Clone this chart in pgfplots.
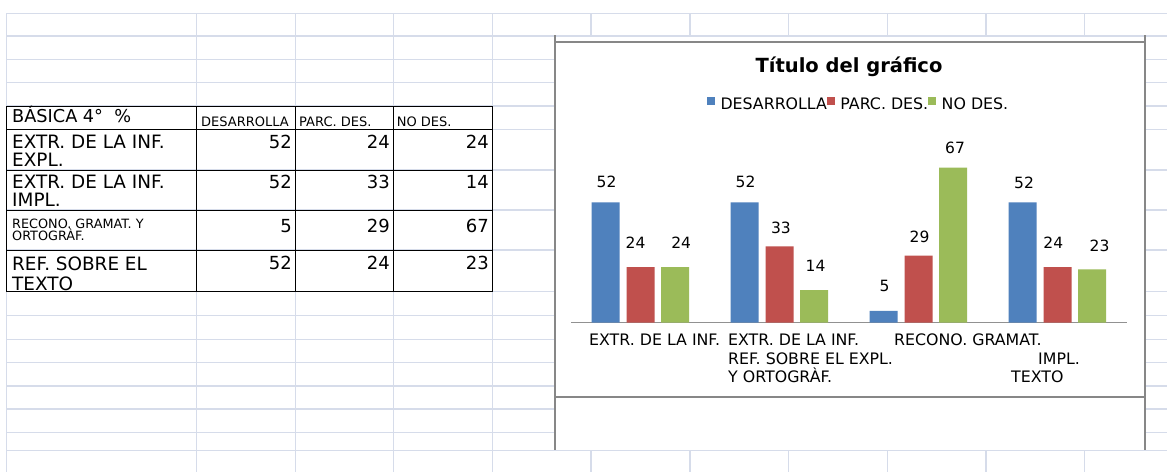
\documentclass[border=0pt]{standalone}
\usepackage{pgfplots}
\pgfplotsset{compat=1.18}
\usepackage{pgfplotstable}
\usepackage{fontspec}
\setmainfont{DejaVu Sans}
\definecolor{gridc}{RGB}{214,220,234}
\definecolor{framec}{RGB}{135,135,135}
\definecolor{axisc}{RGB}{145,145,145}
\definecolor{cblue}{RGB}{79,129,189}
\definecolor{cred}{RGB}{192,80,77}
\definecolor{cgreen}{RGB}{155,187,89}
\newcommand{\fs}[1]{\fontsize{#1}{#1}\selectfont}
% x = category, y = value, dx/dy = label offsets (pt)
\pgfplotstableread{
x y dx dy
1 52 1 14.1
2 52 1 14.1
3 5 1 19.3
4 52 1.5 13.4
}\desarrolla
\pgfplotstableread{
x y dx dy
1 24 -5 18.1
2 33 1.4 12.3
3 29 1 12.8
4 24 -4.2 18.1
}\parcdes
\pgfplotstableread{
x y dx dy
1 24 6.2 18.1
2 14 1.5 18.5
3 67 2 13.4
4 23 7.5 17.4
}\nodesdata
\begin{document}
\begin{tikzpicture}
\begin{scope}[x=1pt,y=-1pt]
\path[use as bounding box, fill=white] (0,0) rectangle (1167,472);
% spreadsheet grid
\foreach \gx in {6.5,196.3,295.4,393.8,492.5,591,690,788.5,887.3,986,1084.5}
  \draw[gridc, line width=1.1pt] (\gx,13.3) -- (\gx,472);
\foreach \gy in {13.3,36,59.3,82.3,106,129.3,170,210,250,291.7,315.7,339.3,362.3,386,409,432.3,450.7}
  \draw[gridc, line width=1.1pt] (6.5,\gy) -- (1167,\gy);
% table borders
\draw[black, line width=1pt] (6.5,106.5) rectangle (492.7,291.7);
\foreach \gx in {196.3,295.4,393.8} \draw[black,line width=1pt] (\gx,106.5) -- (\gx,291.7);
\foreach \gy in {129.3,170,210,250} \draw[black,line width=1pt] (6.5,\gy) -- (492.7,\gy);
% table text
\begin{scope}[every node/.style={inner sep=0pt}]
\node[anchor=base west] at (12,122.7) {\fs{17.7}BÁSICA 4°\ \ \%};
\node[anchor=base west] at (201,126) {\fs{13}DESARROLLA};
\node[anchor=base west] at (299,126) {\fs{13}PARC. DES.};
\node[anchor=base west] at (396.7,126) {\fs{13}NO DES.};
\node[anchor=base west] at (12,148.3) {\fs{18.4}EXTR. DE LA INF.};
\node[anchor=base west] at (12,166.7) {\fs{18.4}EXPL.};
\node[anchor=base west] at (12,188.3) {\fs{18.4}EXTR. DE LA INF.};
\node[anchor=base west] at (12,206.7) {\fs{18.4}IMPL.};
\node[anchor=base west] at (12,228.3) {\fs{12.8}RECONO. GRAMAT. Y};
\node[anchor=base west] at (12,240) {\fs{12.8}ORTOGRÀF.};
\node[anchor=base west] at (12,270) {\fs{18.4}REF. SOBRE EL};
\node[anchor=base west] at (12,290) {\fs{18.4}TEXTO};
\node[anchor=base east] at (292,148.3) {\fs{18}52};
\node[anchor=base east] at (390,148.3) {\fs{18}24};
\node[anchor=base east] at (489,148.3) {\fs{18}24};
\node[anchor=base east] at (292,188.3) {\fs{18}52};
\node[anchor=base east] at (390,188.3) {\fs{18}33};
\node[anchor=base east] at (489,188.3) {\fs{18}14};
\node[anchor=base east] at (292,232.7) {\fs{18}5};
\node[anchor=base east] at (390,232.7) {\fs{18}29};
\node[anchor=base east] at (489,232.7) {\fs{18}67};
\node[anchor=base east] at (292,269.3) {\fs{18}52};
\node[anchor=base east] at (390,269.3) {\fs{18}24};
\node[anchor=base east] at (489,269.3) {\fs{18}23};
\end{scope}
% chart object
\fill[white] (556,37) rectangle (1145,449.6);
\draw[framec, line width=2.5pt] (555,35) -- (555,450);
\draw[framec, line width=2.5pt] (1145,35) -- (1145,450);
\draw[framec, line width=2pt] (555,41.5) -- (1145,41.5);
\draw[framec, line width=2pt] (555,396.7) -- (1145,396.7);
% category labels as laid out in the reference
\begin{scope}[every node/.style={inner sep=0pt, anchor=base west, font=\fs{15.8}}]
\node at (589,345) {EXTR. DE LA INF.};
\node at (728,345) {EXTR. DE LA INF.};
\node at (894,345) {RECONO. GRAMAT.};
\node at (728,364) {REF. SOBRE EL EXPL.};
\node at (1038,364) {IMPL.};
\node at (728,382.7) {Y ORTOGRÀF.};
\node at (1011,382.7) {TEXTO};
\end{scope}
\end{scope}
\begin{axis}[
  at={(571pt,-322.5pt)}, anchor=south west,
  scale only axis, width=556pt, height=184.8pt,
  xmin=0.5, xmax=4.5, ymin=0, ymax=80,
  axis x line*=bottom, axis y line=none,
  x axis line style={draw=axisc, line width=1.5pt, -},
  xtick=\empty, ytick=\empty,
  ybar, bar width=28pt,
  clip=false,
  /pgf/number format/assume math mode=true,
  visualization depends on={\thisrow{dx}\as\lbx},
  visualization depends on={\thisrow{dy}\as\lby},
  nodes near coords,
  nodes near coords style={font=\fs{15.5}, inner sep=0pt, text=black},
  every node near coord/.append style={xshift=\lbx pt, yshift=\lby pt},
  title={Título del gráfico},
  title style={at={(0.5,1.322)}, anchor=base, font=\bfseries\fs{19.5}, inner sep=0pt},
  legend columns=3,
  legend image code/.code={\fill[#1] (0pt,0pt) rectangle (8pt,8pt);},
  legend style={at={(0.2446,1.182)}, anchor=west, draw=none, fill=none,
    inner sep=0pt, outer sep=0pt, font=\fs{15.8}, nodes={inner sep=0pt},
    /tikz/every odd column/.append style={column sep=5.5pt},
    /tikz/every even column/.append style={column sep=0pt}},
]
\addplot[fill=cblue, draw=none, bar shift=-35pt] table[x=x,y=y] {\desarrolla};
\addplot[fill=cred, draw=none, bar shift=0pt] table[x=x,y=y] {\parcdes};
\addplot[fill=cgreen, draw=none, bar shift=34.5pt] table[x=x,y=y] {\nodesdata};
\legend{DESARROLLA,PARC. DES.,NO DES.}
\end{axis}
\end{tikzpicture}
\end{document}
